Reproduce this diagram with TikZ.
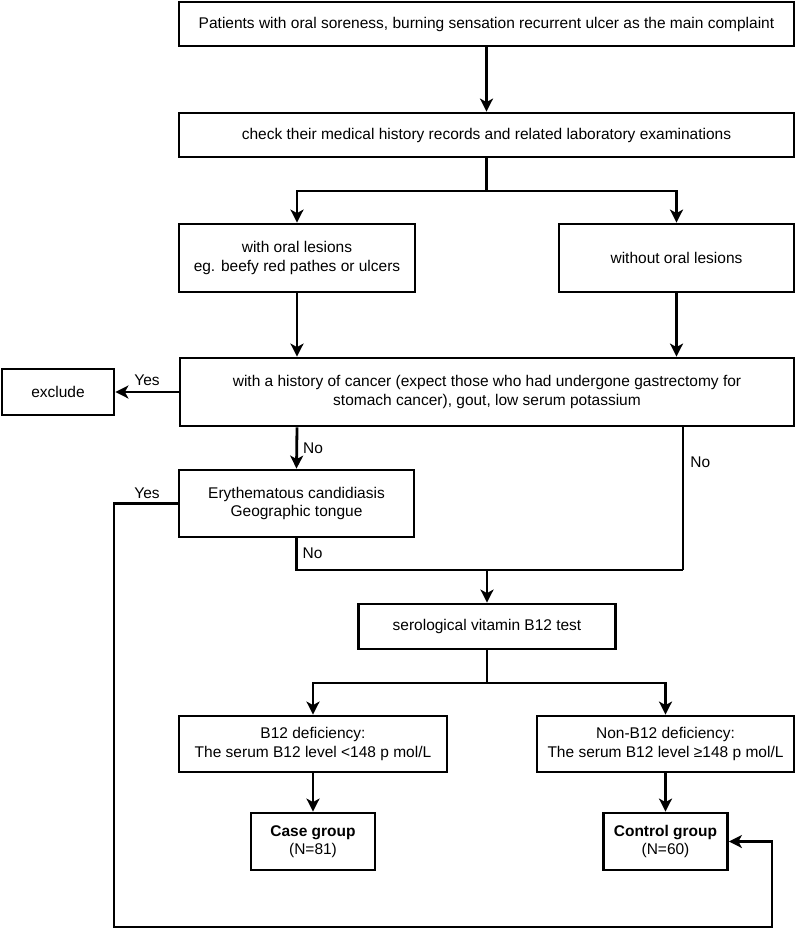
\documentclass[tikz,border=0pt]{standalone}
\usepackage{fontspec}
\setmainfont{Liberation Sans}
\usetikzlibrary{arrows.meta}
\begin{document}
\begin{tikzpicture}[x=1pt,y=-1pt,
  box/.style={draw, line width=2.8pt, inner sep=0pt, align=center,
    font=\fontsize{15.5}{18.5}\selectfont},
  lbl/.style={inner sep=0pt, font=\fontsize{15.5}{18.5}\selectfont},
  conn/.style={line width=2.8pt},
  arr/.style={line width=2.8pt, -{Stealth[length=13pt,width=13pt,inset=3.5pt]}}]
\useasboundingbox (0,0) rectangle (796,930);
\node[box, minimum width=615pt, minimum height=44pt] (b1) at (486.5,24)
  {Patients with oral soreness, burning sensation recurrent ulcer as the main complaint};
\node[box, minimum width=615pt, minimum height=44pt] (b2) at (486.5,135)
  {check their medical history records and related laboratory examinations};
\node[box, minimum width=236pt, minimum height=68pt] (b3) at (297,258)
  {with oral lesions\\eg. beefy red pathes or ulcers};
\node[box, minimum width=235pt, minimum height=68pt] (b4) at (676.5,258)
  {without oral lesions};
\node[box, minimum width=614pt, minimum height=68pt] (b5) at (487,392)
  {with a history of cancer (expect those who had undergone gastrectomy for\\stomach cancer), gout, low serum potassium};
\node[box, minimum width=112pt, minimum height=46pt] (ex) at (58,392) {exclude};
\node[box, minimum width=235pt, minimum height=67pt] (b6) at (296.5,503.5)
  {Erythematous candidiasis\\Geographic tongue};
\node[box, minimum width=257pt, minimum height=45pt] (b7) at (487,626.5)
  {serological vitamin B12 test};
\node[box, minimum width=268pt, minimum height=56pt] (b8) at (313,744)
  {B12 deficiency:\\The serum B12 level <148 p mol/L};
\node[box, minimum width=257pt, minimum height=56pt] (b9) at (665.5,744)
  {Non-B12 deficiency:\\The serum B12 level ≥148 p mol/L};
\node[box, minimum width=124pt, minimum height=57pt] (b10) at (313,841.5)
  {\textbf{Case group}\\(N=81)};
\node[box, minimum width=124pt, minimum height=57pt] (b11) at (665.5,841.5)
  {\textbf{Control group}\\(N=60)};
% coordinates
\coordinate (s1) at (486.5,191);
\coordinate (j1) at (487,570);
\coordinate (s2) at (487,683);
\coordinate (r5) at (683,426);
\coordinate (fb1) at (114,503.5);
\coordinate (fb2) at (114,927);
\coordinate (fb3) at (772,927);
\coordinate (fb4) at (772,841.5);
% connectors
\draw[arr] (b1) -- (b2);
\draw[conn] (b2.south) -- (s1);
\draw[arr] (s1) -| (b3.north);
\draw[arr] (s1) -| (b4.north);
\draw[arr] (b3.south) -- (b3.south |- b5.north);
\draw[arr] (b4.south) -- (b4.south |- b5.north);
\draw[arr] (b5.west) -- (ex.east) node[lbl, midway, above=5pt] {Yes};
\draw[arr] (b3.south |- b5.south) -- (b6.north) node[lbl, midway, right=5pt] {No};
\draw[conn] (r5) -- (r5 |- j1) node[lbl, pos=0.25, right=6pt] {No};
\draw[conn] (b6.south) -- (b6.south |- j1) -- (r5 |- j1);
\draw[arr] (j1) -- (b7.north);
\node[lbl, right=6pt] at (b6.south |- 0,553) {No};
\draw[arr] (b6.west) -- (fb1) -- (fb2) -- (fb3) -- (fb4) -- (b11.east);
\node[lbl] at (147,493) {Yes};
\draw[conn] (b7.south) -- (s2);
\draw[arr] (s2) -| (b8.north);
\draw[arr] (s2) -| (b9.north);
\draw[arr] (b8) -- (b10);
\draw[arr] (b9) -- (b11);
\end{tikzpicture}
\end{document}
